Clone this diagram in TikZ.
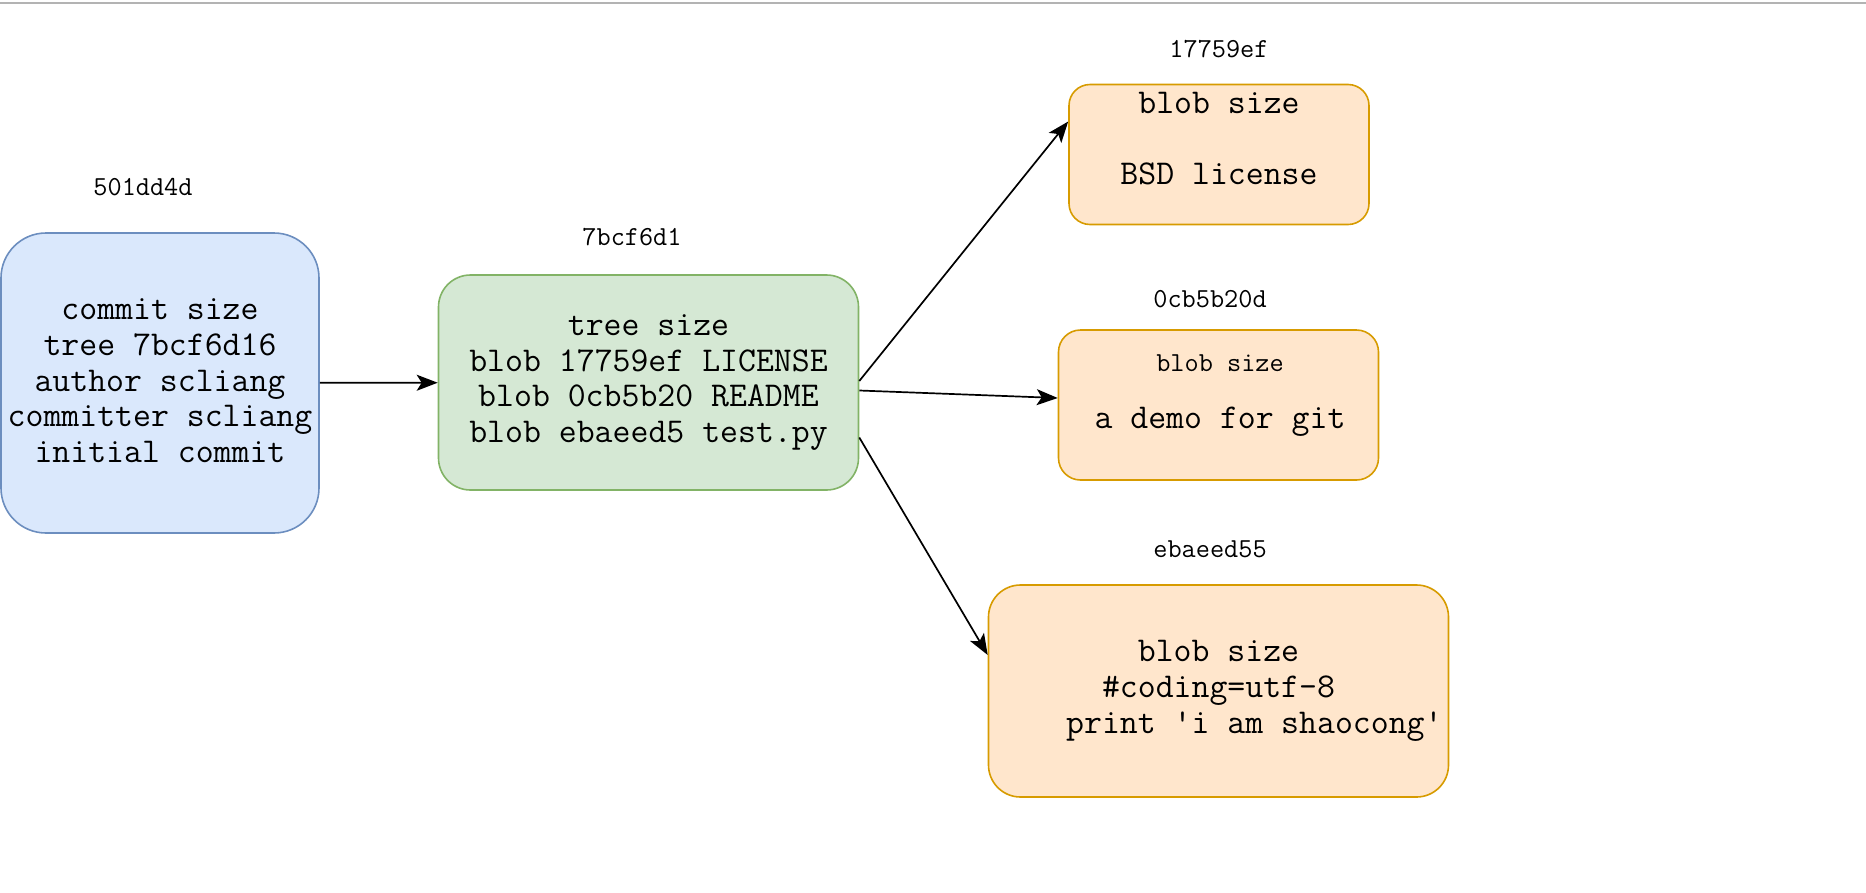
\documentclass[tikz,border=0pt]{standalone}
\usepackage{fontspec}
\definecolor{commitfill}{HTML}{DAE8FC}
\definecolor{commitdraw}{HTML}{6C8EBF}
\definecolor{treefill}{HTML}{D5E8D4}
\definecolor{treedraw}{HTML}{82B366}
\definecolor{blobfill}{HTML}{FFE6CC}
\definecolor{blobdraw}{HTML}{D79B00}
\definecolor{edgegray}{HTML}{B3B3B3}
\usetikzlibrary{arrows.meta}
\tikzstyle{box} = [rectangle, inner sep=0pt, line width=1.6pt, align=center]
\tikzstyle{commitbox} = [box, fill=commitfill, draw=commitdraw]
\tikzstyle{treebox} = [box, fill=treefill, draw=treedraw]
\tikzstyle{blobbox} = [box, fill=blobfill, draw=blobdraw]
\tikzstyle{hash} = [font=\ttfamily\fontsize{27.5}{30}\selectfont]
\tikzstyle{ptr} = [-{Stealth[length=21pt,width=16pt,inset=5pt]}, line width=1.7pt]

\begin{document}
\begin{tikzpicture}[
  x=1pt, y=-1pt,
  every node/.style={font=\ttfamily\fontsize{34.8}{35.8}\selectfont, align=center, inner sep=0pt},
]
\useasboundingbox (0,0) rectangle (1866,892);
\draw[edgegray, line width=2pt] (0,3) -- (1866,3);

% objects
\node[commitbox, minimum width=318pt, minimum height=300pt, rounded corners=45pt] (commit) at (160,383)
  {commit size\\tree 7bcf6d16\\author scliang\\committer scliang\\initial commit\\[-31pt]};
\node[treebox, minimum width=420pt, minimum height=215pt, rounded corners=32pt] (tree) at (648.5,382.5)
  {tree size\\blob 17759ef LICENSE\\blob 0cb5b20 README\\blob ebaeed5 test.py};
\node[blobbox, minimum width=300pt, minimum height=140pt, rounded corners=21pt] (license) at (1219,154.5) {};
\node[blobbox, minimum width=320pt, minimum height=150pt, rounded corners=22pt] (readme) at (1218.5,405) {};
\node[blobbox, minimum width=460pt, minimum height=212pt, rounded corners=32pt] (testpy) at (1218.5,691)
  {blob size\\\#coding=utf-8\\\phantom{xxxx}print \textquotesingle i am shaocong\textquotesingle};

\node (licensetext) at (1219,138.5) {blob size\\\mbox{}\\BSD license};
\node[hash] (readmesize) at (1220,363) {blob size};
\node (readmetext) at (1220,422) {a demo for git};

% hashes
\node[hash] (commitid) at (143,187) {501dd4d};
\node[hash] (treeid) at (632,237) {7bcf6d1};
\node[hash] (licenseid) at (1219,49) {17759ef};
\node[hash] (readmeid) at (1210,299) {0cb5b20d};
\node[hash] (testpyid) at (1210,549) {ebaeed55};

% pointers
\draw[ptr] (commit) -- (tree);
\draw[ptr] ([yshift=1.5pt]tree.east) -- ([yshift=33pt]license.west);
\draw[ptr] ([yshift=-8pt]tree.east) -- ([yshift=7pt]readme.west);
\draw[ptr] ([yshift=-55pt]tree.east) -- ([yshift=36pt]testpy.west);

\end{tikzpicture}
\end{document}
